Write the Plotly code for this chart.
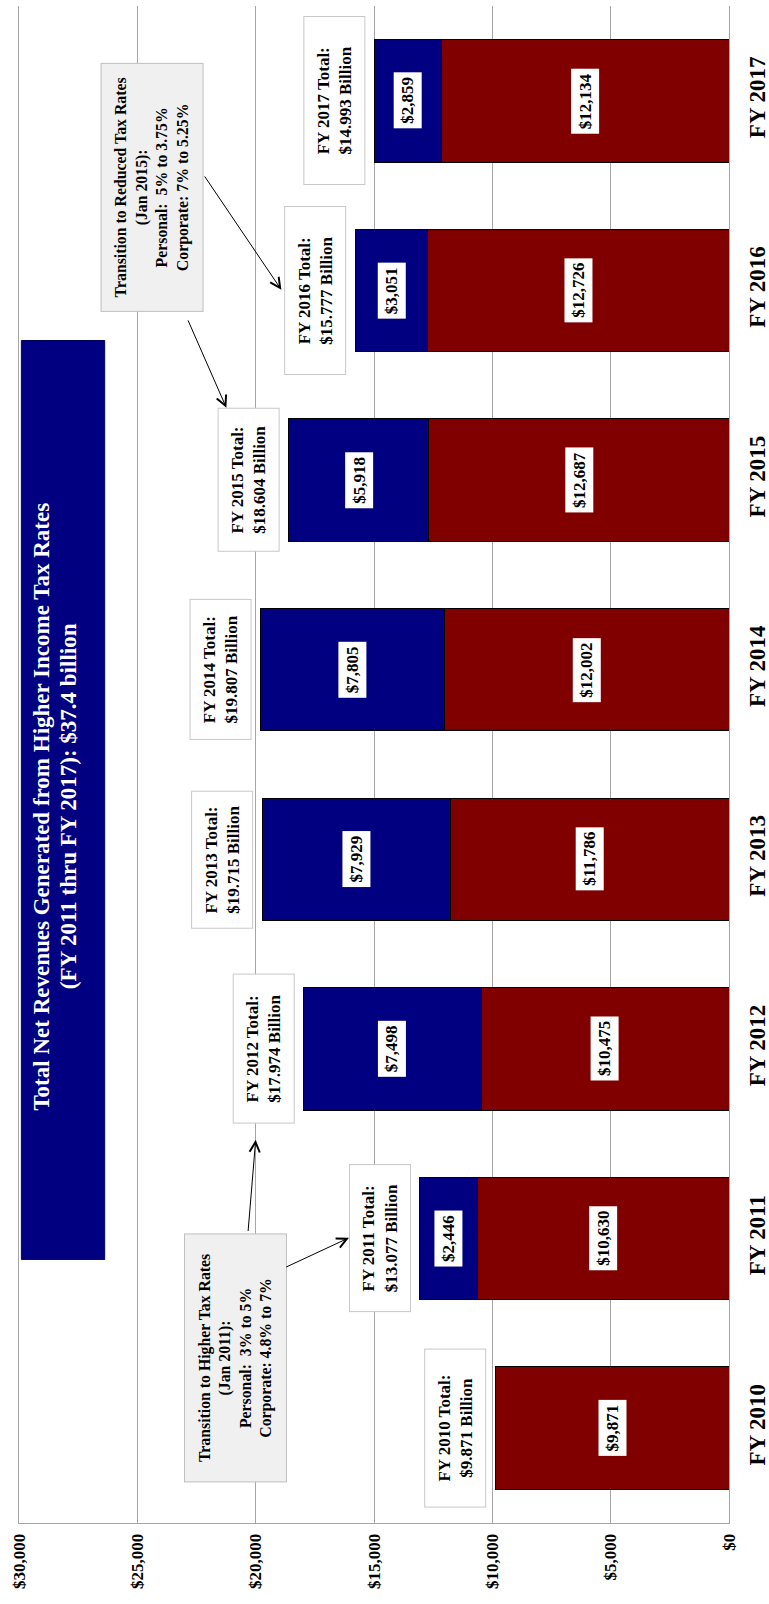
import plotly.graph_objects as go

# ---- data -------------------------------------------------------------
years = ["FY 2010", "FY 2011", "FY 2012", "FY 2013", "FY 2014", "FY 2015", "FY 2016", "FY 2017"]
base_rev = [9871, 10630, 10475, 11786, 12002, 12687, 12726, 12134]          # $ millions
higher_rate_rev = [0, 2446, 7498, 7929, 7805, 5918, 3051, 2859]             # $ millions
total_billions = ["9.871", "13.077", "17.974", "19.715", "19.807", "18.604", "15.777", "14.993"]
value_ticks = [0, 5000, 10000, 15000, 20000, 25000, 30000]
value_tick_labels = [f"${v:,}" for v in value_ticks]

title_lines = [
    "Total Net Revenues Generated from Higher Income Tax Rates",
    "(FY 2011 thru FY 2017): $37.4 billion",
]
note_higher = [
    "Transition to Higher Tax Rates",
    "(Jan 2011):",
    "Personal:\u00a0 3% to 5%",
    "Corporate: 4.8% to 7%",
]
note_reduced = [
    "Transition to Reduced Tax Rates",
    "(Jan 2015):",
    "Personal:\u00a0 5% to 3.75%",
    "Corporate: 7% to 5.25%",
]

# ---- styling ----------------------------------------------------------
SERIF = "Liberation Serif"
RED = "#800000"
NAVY = "#000080"
GRID = "#a6a6a6"
total_box_len = [159, 148, 150, 138, 141, 144, 169, 169]   # px along the text
TOTAL_BOX_THICK = 62
NOTE_BOX_LEN, NOTE_BOX_THICK = 249, 103

fig = go.Figure()
fig.add_trace(go.Bar(
    y=years, x=base_rev, orientation="h", name="Revenue at prior rates",
    marker=dict(color=RED, line=dict(color="black", width=1)),
))
fig.add_trace(go.Bar(
    y=years, x=[v if v else None for v in higher_rate_rev], orientation="h",
    name="Revenue from higher rates",
    marker=dict(color=NAVY, line=dict(color="black", width=1)),
))

annotations = []
bold = dict(family=SERIF, color="black", weight="bold")

# value labels in the middle of each segment
for yr, b, h in zip(years, base_rev, higher_rate_rev):
    annotations.append(dict(
        x=b / 2, y=yr, text=f"${b:,}", textangle=-90, showarrow=False,
        font=dict(size=17, **bold), bgcolor="white", borderpad=4,
    ))
    if h:
        annotations.append(dict(
            x=b + h / 2, y=yr, text=f"${h:,}", textangle=-90, showarrow=False,
            font=dict(size=17, **bold), bgcolor="white", borderpad=4,
        ))

# total call-out boxes just beyond each bar
for i, (yr, b, h, t) in enumerate(zip(years, base_rev, higher_rate_rev, total_billions)):
    annotations.append(dict(
        x=b + h, y=yr, xanchor="right", xshift=-9,
        text=f"{yr} Total:<br>${t} Billion", textangle=-90, showarrow=False,
        font=dict(size=17, **bold), bgcolor="white",
        bordercolor="#c8c8c8", borderwidth=1, borderpad=1,
        width=total_box_len[i] - 4, height=TOTAL_BOX_THICK - 4,
    ))

# rate-change notes
for text_lines, xc, yc in ((note_higher, 20865, 0.369), (note_reduced, 24372, 6.542)):
    annotations.append(dict(
        x=xc, y=yc, text="<br>".join(text_lines), textangle=-90, showarrow=False,
        font=dict(size=15.8, **bold), bgcolor="#f0f0f0",
        bordercolor="#bfbfbf", borderwidth=1, borderpad=1, align="center",
        width=NOTE_BOX_LEN - 4, height=NOTE_BOX_THICK - 4,
    ))

# arrows from the notes to the affected totals: (head x, head y, tail x, tail y)
arrows = [
    (16057, 1.004, 18774, 0.846),
    (19999, 1.521, 20324, 1.032),
    (18913, 6.003, 22196, 6.609),
    (21237, 5.381, 22885, 5.850),
]
for hx, hy, tx, ty in arrows:
    annotations.append(dict(
        x=hx, y=hy, ax=tx, ay=ty, xref="x", yref="y", axref="x", ayref="y",
        text="", showarrow=True, arrowhead=5, arrowsize=2, arrowwidth=1,
        arrowcolor="black", standoff=0, startstandoff=0,
    ))

# chart heading on a navy panel
for line, xc in zip(title_lines, (29054, 27930)):
    annotations.append(dict(
        x=xc, y=3.28, text=line, textangle=-90, showarrow=False,
        font=dict(family=SERIF, size=23, color="white", weight="bold"),
    ))

shapes = [dict(
    type="rect", xref="x", yref="y", x0=29899, x1=26379, y0=0.89, y1=5.736,
    fillcolor=NAVY, line=dict(color="#000060", width=1), layer="above",
)]

fig.update_layout(
    width=769, height=1604,
    margin=dict(l=19, r=40, t=6, b=81, autoexpand=False),
    plot_bgcolor="white", paper_bgcolor="white",
    barmode="stack", bargap=0.354, showlegend=False,
    annotations=annotations, shapes=shapes,
)
fig.update_xaxes(
    range=[30000, 0], tickmode="array", tickvals=value_ticks, ticktext=value_tick_labels,
    tickangle=-90, tickfont=dict(size=17, **bold), ticks="",
    ticklabelstandoff=3, showgrid=True, gridcolor=GRID, gridwidth=1,
    showline=True, linecolor=GRID, linewidth=1, zeroline=False, automargin=False,
)
fig.update_yaxes(
    side="right", range=[-0.5, 7.5], tickangle=-90,
    tickfont=dict(size=23, **bold), ticks="", ticklabelstandoff=7,
    showgrid=False, showline=True, mirror=True, linecolor=GRID, linewidth=1,
    automargin=False,
)

fig.write_html("out.html")
